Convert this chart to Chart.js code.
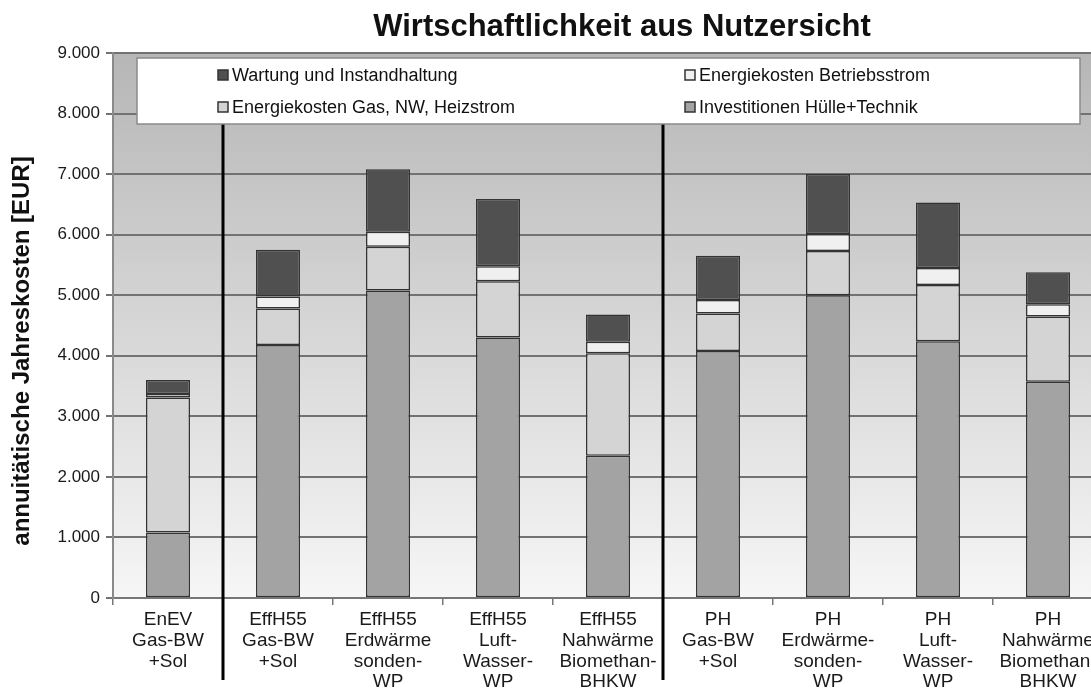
<!DOCTYPE html>
<html>
<head>
<meta charset="utf-8">
<script src="https://cdn.jsdelivr.net/npm/chart.js@4/dist/chart.umd.min.js"></script>
<style>
  html, body { margin: 0; padding: 0; overflow: hidden; background: #fff; }
  canvas { display: block; }
</style>
</head>
<body>
<canvas id="chart" width="1104" height="691"></canvas>
<script>
// categories (multi-line x labels)
const categories = [
    ['EnEV', 'Gas-BW', '+Sol'],
    ['EffH55', 'Gas-BW', '+Sol'],
    ['EffH55', 'Erdwärme', 'sonden-', 'WP'],
    ['EffH55', 'Luft-', 'Wasser-', 'WP'],
    ['EffH55', 'Nahwärme', 'Biomethan-', 'BHKW'],
    ['PH', 'Gas-BW', '+Sol'],
    ['PH', 'Erdwärme-', 'sonden-', 'WP'],
    ['PH', 'Luft-', 'Wasser-', 'WP'],
    ['PH', 'Nahwärme', 'Biomethan-', 'BHKW']
];

// annual costs in EUR, stacked from bottom to top
const investitionen = [1080, 4180, 5080, 4300, 2350, 4080, 5000, 4240, 3570];
const energieGas = [2230, 600, 720, 930, 1690, 620, 730, 930, 1080];
const betriebsstrom = [60, 200, 250, 250, 190, 220, 280, 280, 200];
const wartung = [230, 770, 1030, 1110, 450, 730, 990, 1080, 530];

const yTicks = [0, 1000, 2000, 3000, 4000, 5000, 6000, 7000, 8000, 9000];

const chartTitle = 'Wirtschaftlichkeit aus Nutzersicht';
const yTitle = 'annuitätische Jahreskosten [EUR]';

// legend entries in the order they appear (row by row)
const legendItems = [
    { text: 'Wartung und Instandhaltung', color: '#505050' },
    { text: 'Energiekosten Betriebsstrom', color: '#f0f0f0' },
    { text: 'Energiekosten Gas, NW, Heizstrom', color: '#d4d4d4' },
    { text: 'Investitionen Hülle+Technik', color: '#a3a3a3' }
];

const FONT = "'Liberation Sans', Arial, sans-serif";

// gradient behind the plot area
const backgroundPlugin = {
    id: 'plotBackground',
    beforeDraw(chart) {
        const { ctx, chartArea: a } = chart;
        const g = ctx.createLinearGradient(0, a.top, 0, a.bottom);
        g.addColorStop(0, '#b6b6b6');
        g.addColorStop(1, '#f6f6f6');
        ctx.save();
        ctx.fillStyle = g;
        ctx.fillRect(a.left, a.top, a.right - a.left, a.bottom - a.top);
        ctx.strokeStyle = '#8a8a8a';
        ctx.lineWidth = 2;
        ctx.beginPath();
        ctx.moveTo(a.left, a.top);
        ctx.lineTo(a.right, a.top);
        ctx.stroke();
        ctx.restore();
    }
};

// title, y title, legend box and group separators
const overlayPlugin = {
    id: 'overlay',
    afterDraw(chart) {
        const ctx = chart.ctx;
        const x = chart.scales.x;
        ctx.save();

        // title
        ctx.fillStyle = '#111';
        ctx.font = 'bold 31px ' + FONT;
        ctx.textAlign = 'center';
        ctx.textBaseline = 'middle';
        ctx.fillText(chartTitle, 622, 27);

        // y axis title
        ctx.save();
        ctx.translate(22, 351);
        ctx.rotate(-Math.PI / 2);
        ctx.font = 'bold 24px ' + FONT;
        ctx.fillText(yTitle, 0, 0);
        ctx.restore();

        // group separators
        ctx.strokeStyle = '#000';
        ctx.lineWidth = 3;
        [0.5, 4.5].forEach(v => {
            const px = Math.round(x.getPixelForValue(v));
            ctx.beginPath();
            ctx.moveTo(px, 124);
            ctx.lineTo(px, 680);
            ctx.stroke();
        });

        // legend box
        ctx.fillStyle = '#fff';
        ctx.fillRect(137, 58, 943, 66);
        ctx.strokeStyle = '#8a8a8a';
        ctx.lineWidth = 1.5;
        ctx.strokeRect(137, 58, 943, 66);

        const cols = [223, 690];
        const rows = [75, 107];
        ctx.font = '18px ' + FONT;
        ctx.textAlign = 'left';
        ctx.textBaseline = 'middle';
        legendItems.forEach((item, i) => {
            const cx = cols[i % 2];
            const cy = rows[Math.floor(i / 2)];
            ctx.fillStyle = item.color;
            ctx.fillRect(cx - 5, cy - 5, 10, 10);
            ctx.strokeStyle = '#333';
            ctx.lineWidth = 1.5;
            ctx.strokeRect(cx - 5, cy - 5, 10, 10);
            ctx.fillStyle = '#111';
            ctx.fillText(item.text, cx + 9, cy + 1);
        });

        ctx.restore();
    }
};

const barStyle = { borderColor: '#333', borderWidth: 1.5, borderSkipped: false, barPercentage: 0.4, categoryPercentage: 1 };

new Chart(document.getElementById('chart'), {
    type: 'bar',
    data: {
        labels: categories,
        datasets: [
            { label: 'Investitionen Hülle+Technik', data: investitionen, backgroundColor: '#a3a3a3', ...barStyle },
            { label: 'Energiekosten Gas, NW, Heizstrom', data: energieGas, backgroundColor: '#d4d4d4', ...barStyle },
            { label: 'Energiekosten Betriebsstrom', data: betriebsstrom, backgroundColor: '#f0f0f0', ...barStyle },
            { label: 'Wartung und Instandhaltung', data: wartung, backgroundColor: '#505050', ...barStyle }
        ]
    },
    options: {
        responsive: false,
        animation: false,
        locale: 'de-DE',
        layout: { padding: { top: 53, right: 1, left: 0, bottom: 0 } },
        plugins: {
            legend: { display: false },
            title: { display: false },
            tooltip: { enabled: false }
        },
        scales: {
            x: {
                stacked: true,
                afterFit(scale) { scale.height = 93; },
                grid: { offset: true, drawOnChartArea: false, color: '#777', lineWidth: 1.5, tickLength: 7 },
                border: { color: '#777', width: 2 },
                ticks: {
                    color: '#1a1a1a',
                    font: { family: FONT, size: 19, lineHeight: 1.08 },
                    padding: 5,
                    maxRotation: 0,
                    autoSkip: false
                }
            },
            y: {
                stacked: true,
                min: 0,
                max: 9000,
                afterFit(scale) { scale.width = 113; },
                afterBuildTicks(scale) { scale.ticks = yTicks.map(v => ({ value: v })); },
                grid: { color: '#727272', lineWidth: 2, tickLength: 7 },
                border: { color: '#8a8a8a', width: 2 },
                ticks: {
                    color: '#1a1a1a',
                    font: { family: FONT, size: 17 },
                    padding: 6
                }
            }
        }
    },
    plugins: [backgroundPlugin, overlayPlugin]
});
</script>
</body>
</html>
